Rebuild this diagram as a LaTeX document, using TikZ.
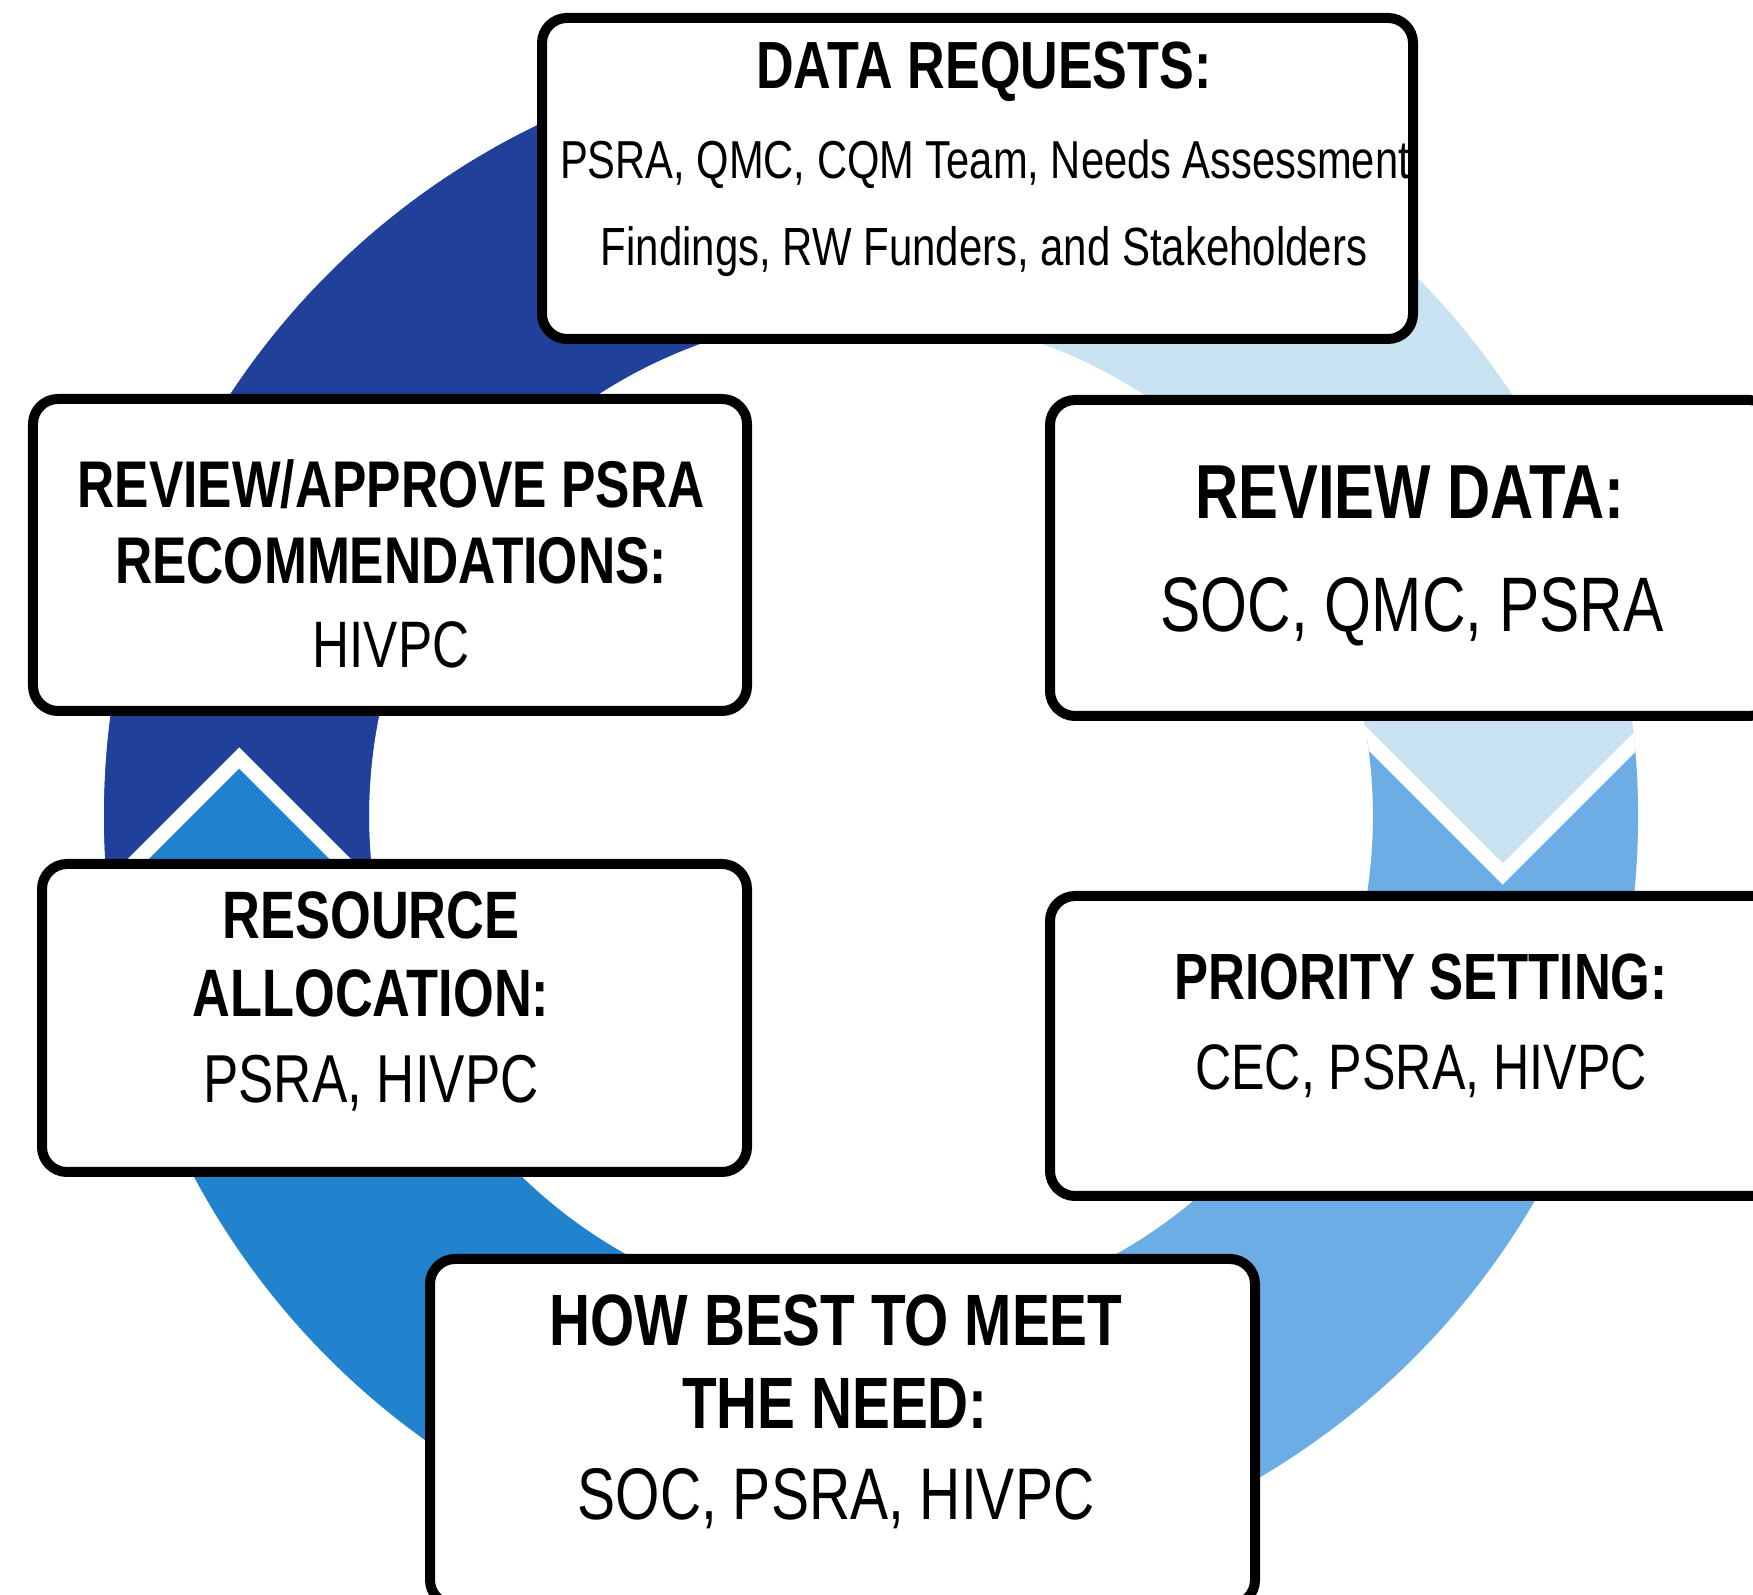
\documentclass[tikz,border=0pt]{standalone}
\usepackage{fontspec}
\setmainfont{Liberation Sans}[FakeStretch=0.78]
\usetikzlibrary{calc}

\definecolor{bleunuit}{RGB}{33,64,154}
\definecolor{bleumoyen}{RGB}{33,131,206}
\definecolor{bleuclair}{RGB}{108,173,230}
\definecolor{bleupale}{RGB}{200,226,241}

\begin{document}
\begin{tikzpicture}[
    boite/.style={draw=black, line width=1mm, rounded corners=2.5mm, fill=white, inner sep=0pt},
    titre/.style={anchor=base, font=\bfseries\fontsize{#1}{#1}\selectfont},
    texte/.style={anchor=base, font=\fontsize{#1}{#1}\selectfont}
]
    % Cadre de l'image
    \clip (0,0) rectangle (17.53,15.94);
    \fill[white] (0,0) rectangle (17.53,15.94);
    \coordinate (C) at (8.71,7.78);
    \coordinate (L) at ($(C)+(174.75:6.345)$);
    \coordinate (R) at ($(C)+(-5.25:6.345)$);
    % Anneau en quatre couleurs
    \begin{scope}[even odd rule]
        \clip (C) circle (7.67) (C) circle (5.02); % anneau
        \fill[bleumoyen] ($(C)+(-8,-8)$) rectangle ($(C)+(0,8)$);
        \fill[bleupale] ($(C)+(0,-8)$) rectangle ($(C)+(8,8)$);
        \fill[bleunuit] (L) -- ($(L)+(225:4)$) -- ($(C)+(-8,8)$) -- ($(C)+(0,8)$) -- (C) -- ($(L)+(315:4)$) -- cycle;
        \fill[bleuclair] (R) -- ($(R)+(45:4)$) -- ($(C)+(8,-8)$) -- ($(C)+(0,-8)$) -- (C) -- ($(R)+(135:4)$) -- cycle;
        % Chevrons blancs
        \draw[white, line width=1.5mm] ($(L)+(225:4)$) -- (L) -- ($(L)+(315:4)$);
        \draw[white, line width=1.5mm] ($(R)+(135:4)$) -- (R) -- ($(R)+(45:4)$);
    \end{scope}
    % Boites
    \node[boite, minimum width=8.71cm, minimum height=3.21cm] (datareq) at (9.775,14.155) {};
    \node[boite, minimum width=7.14cm, minimum height=3.12cm] (approve) at (3.90,10.39) {};
    \node[boite, minimum width=7.24cm, minimum height=3.16cm] (reviewdata) at (14.12,10.36) {};
    \node[boite, minimum width=7.05cm, minimum height=3.08cm] (resalloc) at (3.945,5.76) {};
    \node[boite, minimum width=7.42cm, minimum height=3.00cm] (priority) at (14.21,5.48) {};
    \node[boite, minimum width=8.25cm, minimum height=3.46cm] (howbest) at (8.425,1.62) {};
    % Textes
    \node[titre=19] (datareq-a) at (9.84,15.05) {DATA REQUESTS:};
    \node[texte=15.2] (datareq-b) at (9.85,14.15) {PSRA, QMC, CQM Team, Needs Assessment};
    \node[texte=15.3] (datareq-c) at (9.84,13.28) {Findings, RW Funders, and Stakeholders};
    \node[titre=18.8] (approve-a) at (3.91,10.86) {REVIEW/APPROVE PSRA};
    \node[titre=18.8] (approve-b) at (3.91,10.10) {RECOMMENDATIONS:};
    \node[texte=18.7] (approve-c) at (3.91,9.26) {HIVPC};
    \node[titre=21.8] (reviewdata-a) at (14.10,10.75) {REVIEW DATA:};
    \node[texte=22] (reviewdata-b) at (14.12,9.62) {SOC, QMC, PSRA};
    \node[titre=19.1] (resalloc-a) at (3.71,6.55) {RESOURCE};
    \node[titre=19.1] (resalloc-b) at (3.71,5.77) {ALLOCATION:};
    \node[texte=19.3] (resalloc-c) at (3.71,4.91) {PSRA, HIVPC};
    \node[titre=18.6] (priority-a) at (14.21,5.94) {PRIORITY SETTING:};
    \node[texte=18.3] (priority-b) at (14.21,5.04) {CEC, PSRA, HIVPC};
    \node[titre=20.7] (howbest-a) at (8.36,2.48) {HOW BEST TO MEET};
    \node[titre=20.7] (howbest-b) at (8.35,1.65) {THE NEED:};
    \node[texte=20.8] (howbest-c) at (8.36,0.74) {SOC, PSRA, HIVPC};
\end{tikzpicture}
\end{document}
